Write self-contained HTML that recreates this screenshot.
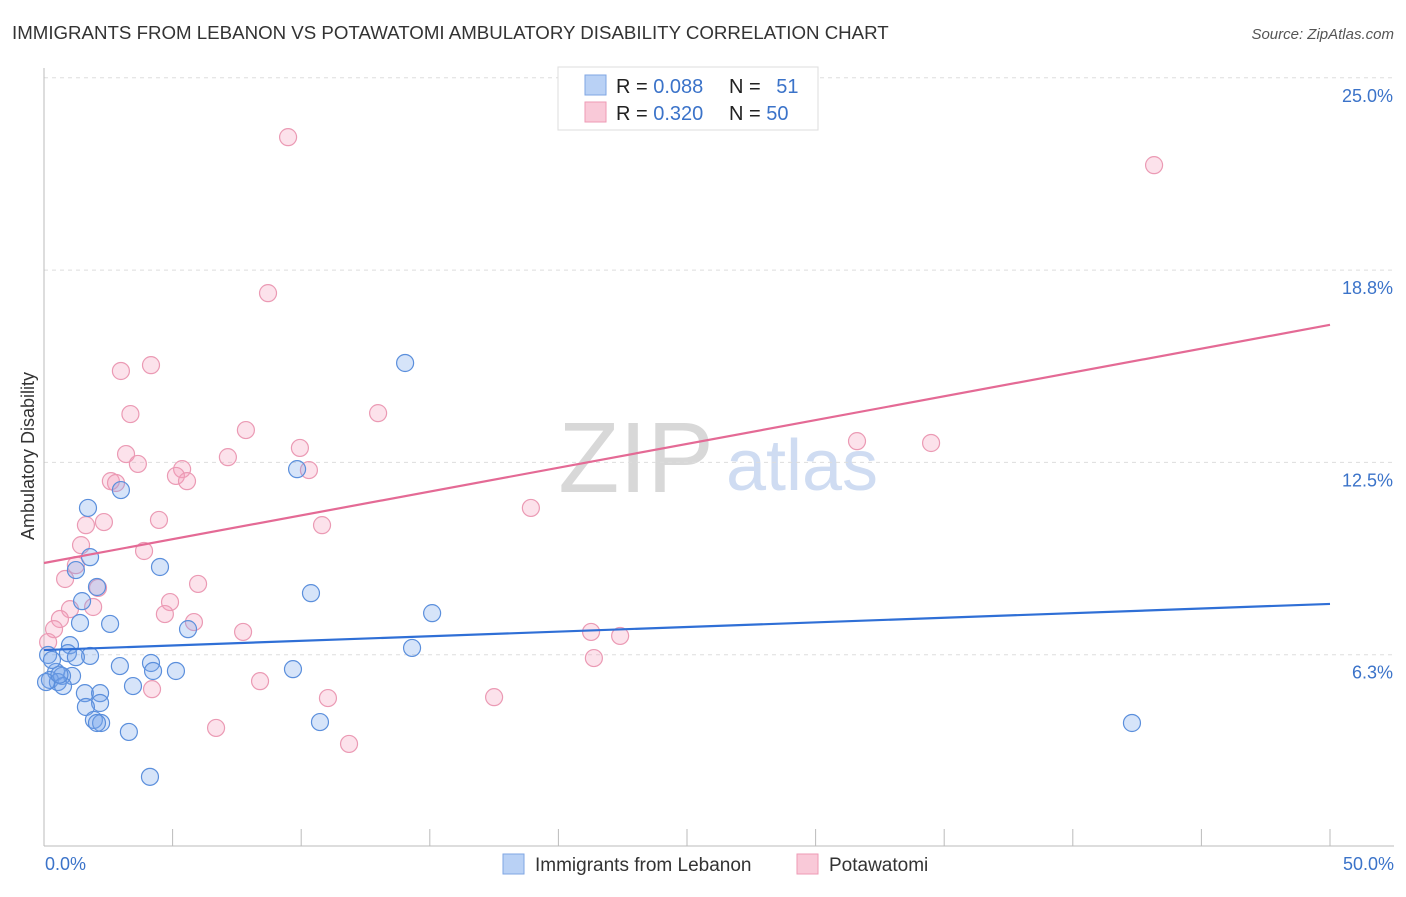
<!DOCTYPE html>
<html><head><meta charset="utf-8"><style>
body{margin:0;background:#fff;font-family:"Liberation Sans",sans-serif;}
svg text{font-family:"Liberation Sans",sans-serif;}
</style></head><body>
<svg id="c" width="1406" height="892">
<text x="12" y="39" font-size="18.7" fill="#333">IMMIGRANTS FROM LEBANON VS POTAWATOMI AMBULATORY DISABILITY CORRELATION CHART</text>
<text x="1394" y="39" font-size="15" fill="#555" text-anchor="end" font-style="italic">Source: ZipAtlas.com</text>
<text x="636" y="492" font-size="100" fill="#d8d8d8" font-family="Liberation Serif" text-anchor="middle">ZIP</text>
<text x="802" y="490" font-size="72" fill="#cfdcf2" text-anchor="middle">atlas</text>
<g id="grid"></g><g id="axes"></g><g id="pts"></g><g id="lines"></g>
<text transform="translate(34,456) rotate(-90)" font-size="18" fill="#333" text-anchor="middle">Ambulatory Disability</text>
<text x="45" y="870" font-size="18" fill="#3b73c9">0.0%</text>
<text x="1394" y="870" font-size="18" fill="#3b73c9" text-anchor="end">50.0%</text>
<g>
<rect x="558" y="67" width="260" height="63" fill="#fff" stroke="#ddd"/>
<rect x="585" y="75" width="21" height="20" fill="#b9d1f5" stroke="#7fa6e3"/>
<rect x="585" y="102" width="21" height="20" fill="#f9c9d8" stroke="#ee9ab5"/>
<text x="616" y="93" font-size="20" fill="#222">R = <tspan fill="#3b73c9">0.088</tspan></text>
<text x="729" y="93" font-size="20" fill="#222">N = <tspan fill="#3b73c9" dx="10">51</tspan></text>
<text x="616" y="120" font-size="20" fill="#222">R = <tspan fill="#3b73c9">0.320</tspan></text>
<text x="729" y="120" font-size="20" fill="#222">N = <tspan fill="#3b73c9">50</tspan></text>
</g>
<g>
<rect x="503" y="854" width="21" height="20" fill="#b9d1f5" stroke="#7fa6e3"/>
<text x="535" y="871" font-size="19" fill="#333">Immigrants from Lebanon</text>
<rect x="797" y="854" width="21" height="20" fill="#f9c9d8" stroke="#ee9ab5"/>
<text x="829" y="871" font-size="19" fill="#333">Potawatomi</text>
</g>
</svg>
<script>
const yTicks=[25,18.75,12.5,6.25];
const yTickLabels=["25.0%","18.8%","12.5%","6.3%"];
const xTicks=[0,5,10,15,20,25,30,35,40,45,50];
const blueX=[9.84,14.04,2.99,1.71,1.79,4.51,2.06,1.24,1.48,10.38,15.09,1.40,2.57,5.60,14.31,1.01,0.93,1.79,1.24,2.95,4.16,5.13,4.24,9.68,0.47,1.09,0.70,0.23,0.54,0.74,0.08,3.46,1.59,2.18,2.18,1.63,1.94,2.22,2.06,10.73,3.30,4.12,42.30,0.16,0.31,0.6];
const blueY=[12.28,15.73,11.60,11.02,9.42,9.10,8.45,9.00,7.99,8.25,7.60,7.28,7.25,7.08,6.47,6.56,6.30,6.21,6.17,5.88,5.98,5.72,5.72,5.78,5.69,5.56,5.56,5.43,5.36,5.23,5.36,5.23,5.00,5.00,4.68,4.55,4.13,4.03,4.03,4.06,3.74,2.28,4.03,6.24,6.08,5.6];
const pinkX=[9.49,43.16,8.71,4.16,2.99,3.36,12.99,7.85,31.61,34.49,9.95,3.19,7.15,3.65,5.37,10.30,5.13,5.56,2.60,2.80,18.93,4.47,2.33,1.63,10.81,1.44,3.89,1.24,0.82,5.99,2.10,4.90,1.91,1.01,4.70,5.83,0.62,0.39,7.74,21.27,22.40,0.16,21.38,8.40,4.20,11.04,17.50,6.69,11.86];
const pinkY=[23.07,22.16,18.00,15.66,15.47,14.07,14.10,13.55,13.19,13.13,12.97,12.77,12.67,12.45,12.28,12.25,12.06,11.89,11.89,11.83,11.02,10.63,10.56,10.46,10.46,9.81,9.62,9.16,8.71,8.55,8.42,7.96,7.80,7.73,7.57,7.31,7.41,7.08,6.99,6.99,6.86,6.66,6.14,5.39,5.13,4.84,4.87,3.87,3.35];
const blueTrend=[6.40,7.90];
const pinkTrend=[9.23,16.97];
const X=v=>44+v*25.72, Y=v=>847-v*30.77;
const NS="http://www.w3.org/2000/svg";
function mk(t,p,a){const e=document.createElementNS(NS,t);for(const k in a)e.setAttribute(k,a[k]);p.appendChild(e);return e;}
const grid=document.getElementById('grid'),axes=document.getElementById('axes'),pts=document.getElementById('pts'),lines=document.getElementById('lines');
yTicks.forEach((v,i)=>{
 const l=mk('line',grid,{x1:44,x2:1394,y1:Y(v),y2:Y(v),stroke:'#ddd','stroke-dasharray':'4,4'});
 
 
 const t=mk('text',grid,{x:1393,y:Y(v)+24,'font-size':18,fill:'#3b73c9','text-anchor':'end'});
 t.textContent=yTickLabels[i];
 
 
});
const ya=mk('line',axes,{x1:44,x2:44,y1:68,y2:846,stroke:'#bbb'});


const xa=mk('line',axes,{x1:44,x2:1394,y1:846,y2:846,stroke:'#bbb'});


xTicks.forEach(v=>{
 const t=mk('line',axes,{x1:X(v),x2:X(v),y1:829,y2:846,stroke:'#bbb'});
 
 
});
pinkX.forEach((v,i)=>{
 const c=mk('circle',pts,{cx:X(v),cy:Y(pinkY[i]),r:8.5,fill:'rgba(244,160,188,0.3)',stroke:'#eb9ab4','stroke-width':1.2});
 
 
});
blueX.forEach((v,i)=>{
 const c=mk('circle',pts,{cx:X(v),cy:Y(blueY[i]),r:8.5,fill:'rgba(120,165,235,0.3)',stroke:'#5b8fdc','stroke-width':1.2});
 
 
});
const pl=mk('line',lines,{x1:X(0),x2:X(50),y1:Y(pinkTrend[0]),y2:Y(pinkTrend[1]),stroke:'#e46a95','stroke-width':2.2});


const bl=mk('line',lines,{x1:X(0),x2:X(50),y1:Y(blueTrend[0]),y2:Y(blueTrend[1]),stroke:'#2f6fd6','stroke-width':2.2});


</script>
</body></html>
